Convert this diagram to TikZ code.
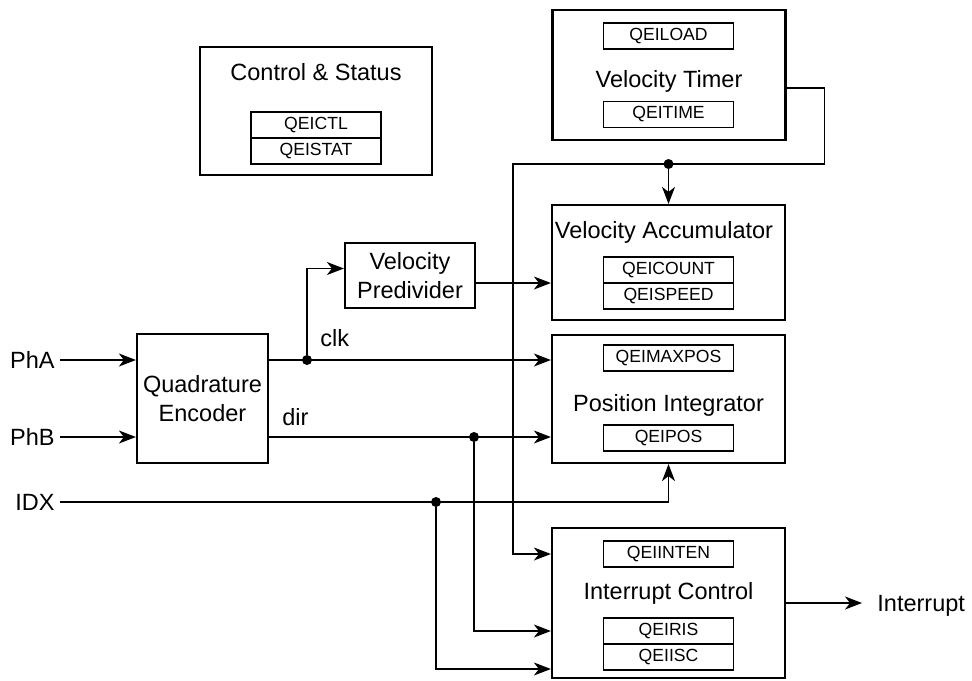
\documentclass[tikz,border=0pt]{standalone}
\usepackage{fontspec}
\setmainfont{Liberation Sans}
\usetikzlibrary{positioning,arrows.meta,calc}

\begin{document}
\begin{tikzpicture}[
    x=0.5pt, y=-0.5pt,
    block/.style={rectangle, draw, line width=1.1pt, align=center, inner sep=0pt, font=\fontsize{11.75}{14.8}\selectfont},
    wideblock/.style={block, minimum width=116.5pt},
    reg/.style={rectangle, draw, line width=0.7pt, minimum width=65pt, minimum height=13pt, inner sep=0pt, outer sep=0pt, font=\fontsize{8.8}{10}\selectfont},
    title/.style={inner sep=0pt, font=\fontsize{11.75}{14.8}\selectfont},
    sig/.style={inner sep=2.5pt, font=\fontsize{11.75}{14.8}\selectfont},
    arrow/.style={-{Stealth[length=8.5pt, width=6.5pt, inset=2.5pt]}, line width=0.65pt},
    wire/.style={line width=0.65pt},
    junction/.style={circle, fill, inner sep=0pt, minimum size=5pt}
]
\useasboundingbox (0,0) rectangle (972,680);

% Top: control and timer blocks
\node[block, minimum width=116pt, minimum height=64pt] (ctrl) at (316,111) {};
\node[title, anchor=base] (ctrltitle) at (316,80.5) {Control \& Status};
\node[reg] (ctl) at (316,125) {QEICTL};
\node[reg, below=0pt of ctl] (stat) {QEISTAT};

\node[wideblock, minimum height=65pt] (timer) at (669,75) {};
\node[reg] (load) at (668.5,36) {QEILOAD};
\node[title, anchor=base] (timertitle) at (669,87) {Velocity Timer};
\node[reg] (time) at (668.5,114.5) {QEITIME};

% Right column
\node[wideblock, minimum height=57.5pt] (accum) at (668.5,262.5) {};
\node[title, anchor=base] (accumtitle) at (664,238) {Velocity Accumulator};
\node[reg] (count) at (668.5,270) {QEICOUNT};
\node[reg, below=0pt of count] (speed) {QEISPEED};

\node[wideblock, minimum height=64pt] (posint) at (668.5,399) {};
\node[reg] (maxpos) at (668.5,358) {QEIMAXPOS};
\node[title, anchor=base] (posinttitle) at (668.5,411) {Position Integrator};
\node[reg] (pos) at (668.5,438) {QEIPOS};

\node[wideblock, minimum height=75pt] (intctl) at (668.5,603) {};
\node[reg] (inten) at (668.5,554) {QEIINTEN};
\node[title, anchor=base] (intctltitle) at (668.5,599) {Interrupt Control};
\node[reg] (iris) at (668.5,631) {QEIRIS};
\node[reg, below=0pt of iris] (iisc) {QEIISC};

% Left: encoder and predivider
\node[block, minimum width=65.5pt, minimum height=64.5pt] (enc) at (202.5,398.5) {Quadrature\\Encoder};
\node[block, minimum width=65pt, minimum height=32.5pt] (prediv) at (410,275.5) {Velocity\\Predivider};

% Inputs and output
\node[sig, anchor=east] (pha) at (60,360) {PhA};
\node[sig, anchor=east] (phb) at (60,437) {PhB};
\node[sig, anchor=east] (idx) at (60,502) {IDX};
\node[sig, anchor=base west, inner xsep=7.5pt] (intout) at (862,611.5) {Interrupt};
\node[title, anchor=base west] (clk) at (320,346.5) {clk};
\node[title, anchor=base west] (dir) at (282,425) {dir};

% Junctions
\node[junction] (clkdot) at (307,360) {};
\node[junction] (dirdot) at (474,437) {};
\node[junction] (idxdot) at (436,502) {};
\node[junction] (vdot) at (668.5,164) {};
\coordinate (vbus) at (513,164);
\coordinate (timerout) at ([yshift=-6.5pt]timer.east);
\coordinate (predout) at ([yshift=-3.75pt]prediv.east);

% Arrows - encoder inputs
\draw[arrow] (pha) -- (pha -| enc.west);
\draw[arrow] (phb) -- (phb -| enc.west);

% Arrows - clk and dir
\draw[arrow] (pha -| enc.east) -- (pha -| posint.west);
\draw[arrow] (phb -| enc.east) -- (phb -| posint.west);
\draw[arrow] (clkdot) |- ([yshift=3.5pt]prediv.west);
\draw[arrow] (predout) -- (predout -| accum.west);

% Arrows - velocity timer bus
\draw[arrow] (timerout) -- ++(38,0) |- (vbus) |- (inten -| intctl.west);
\draw[arrow] (vdot) -- (accum.north);

% Arrows - index and interrupts
\draw[arrow] (idx) -| (posint.south);
\draw[arrow] (dirdot) |- (iris -| intctl.west);
\draw[arrow] (idxdot) |- ($(iisc -| intctl.west)+(0,12)$);
\draw[arrow] (intctl.east) -- (intctl.east -| intout.west);

\end{tikzpicture}
\end{document}
